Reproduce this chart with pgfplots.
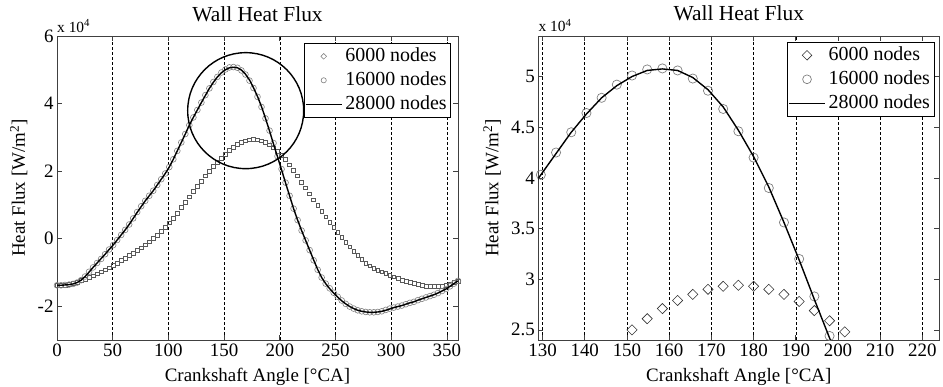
\documentclass[border=0pt]{standalone}
\usepackage{fontspec}
\setmainfont{Liberation Serif}
\usepackage{pgfplots}
\usepackage{pgfplotstable}
\pgfplotsset{compat=1.18}

\pgfplotstableread{
x c6 c16 c28
0.0 -1.38 -1.38 -1.38
3.6 -1.38 -1.38 -1.38
7.2 -1.37 -1.37 -1.37
10.8 -1.36 -1.36 -1.36
14.4 -1.33 -1.34 -1.34
18.0 -1.29 -1.30 -1.30
21.6 -1.24 -1.23 -1.23
25.2 -1.19 -1.12 -1.12
28.8 -1.15 -0.98 -0.99
32.4 -1.10 -0.85 -0.85
36.0 -1.04 -0.72 -0.72
39.6 -0.98 -0.60 -0.59
43.2 -0.92 -0.46 -0.46
46.8 -0.86 -0.32 -0.32
50.4 -0.79 -0.19 -0.19
54.0 -0.72 -0.04 -0.04
57.6 -0.65 0.11 0.11
61.2 -0.58 0.26 0.26
64.8 -0.50 0.42 0.42
68.4 -0.42 0.60 0.60
72.0 -0.35 0.79 0.78
75.6 -0.27 0.96 0.95
79.2 -0.18 1.12 1.12
82.8 -0.09 1.27 1.27
86.4 0.01 1.42 1.42
90.0 0.11 1.59 1.59
93.6 0.21 1.76 1.76
97.2 0.33 1.93 1.93
100.8 0.47 2.12 2.12
104.4 0.61 2.35 2.35
108.0 0.76 2.60 2.60
111.6 0.92 2.85 2.85
115.2 1.08 3.10 3.10
118.8 1.24 3.36 3.36
122.4 1.40 3.59 3.59
126.0 1.56 3.81 3.81
129.6 1.71 4.03 4.03
133.2 1.86 4.25 4.24
136.8 2.00 4.45 4.45
140.4 2.14 4.64 4.63
144.0 2.27 4.79 4.79
147.6 2.39 4.92 4.91
151.2 2.50 5.01 5.00
154.8 2.61 5.07 5.06
158.4 2.71 5.08 5.075
162.0 2.79 5.06 5.06
165.6 2.85 4.98 4.99
169.2 2.90 4.86 4.87
172.8 2.93 4.68 4.70
176.4 2.94 4.46 4.47
180.0 2.93 4.20 4.21
183.6 2.90 3.90 3.91
187.2 2.85 3.56 3.56
190.8 2.78 3.20 3.19
194.4 2.69 2.83 2.80
198.0 2.59 2.44 2.42
201.6 2.48 2.06 2.04
205.2 2.34 1.66 1.65
208.8 2.19 1.27 1.27
212.4 2.03 0.89 0.89
216.0 1.86 0.55 0.55
219.6 1.68 0.24 0.24
223.2 1.51 -0.05 -0.05
226.8 1.33 -0.34 -0.34
230.4 1.15 -0.64 -0.63
234.0 0.98 -0.92 -0.91
237.6 0.81 -1.15 -1.15
241.2 0.65 -1.33 -1.33
244.8 0.49 -1.47 -1.48
248.4 0.34 -1.60 -1.61
252.0 0.19 -1.72 -1.73
255.6 0.04 -1.83 -1.84
259.2 -0.10 -1.93 -1.93
262.8 -0.24 -2.01 -2.01
266.4 -0.37 -2.07 -2.07
270.0 -0.50 -2.12 -2.12
273.6 -0.62 -2.15 -2.15
277.2 -0.72 -2.17 -2.17
280.8 -0.80 -2.18 -2.18
284.4 -0.87 -2.18 -2.18
288.0 -0.93 -2.17 -2.17
291.6 -0.98 -2.15 -2.15
295.2 -1.03 -2.11 -2.12
298.8 -1.08 -2.07 -2.08
302.4 -1.13 -2.04 -2.04
306.0 -1.18 -2.01 -2.01
309.6 -1.22 -1.98 -1.98
313.2 -1.26 -1.94 -1.94
316.8 -1.30 -1.90 -1.90
320.4 -1.33 -1.87 -1.87
324.0 -1.36 -1.82 -1.82
327.6 -1.38 -1.78 -1.78
331.2 -1.40 -1.74 -1.74
334.8 -1.41 -1.70 -1.70
338.4 -1.41 -1.66 -1.66
342.0 -1.41 -1.61 -1.61
345.6 -1.40 -1.55 -1.55
349.2 -1.38 -1.49 -1.49
352.8 -1.35 -1.41 -1.41
356.4 -1.30 -1.33 -1.33
360.0 -1.25 -1.25 -1.25
}\heatdata

\newcommand{\lblfont}{\fontsize{19}{22}\selectfont}
\newcommand{\lgdfont}{\fontsize{20}{23}\selectfont}
\newcommand{\ttlfont}{\fontsize{21.5}{25}\selectfont}
\newcommand{\expfont}{\fontsize{15.5}{18}\selectfont}

\pgfplotsset{
  every axis/.append style={
    scale only axis, width=401bp, height=304bp,
    clip mode=individual,
    tick align=inside, major tick length=5bp,
    xmajorgrids,
    major grid style={black, line width=0.5bp, dash pattern=on 2.5bp off 2.5bp},
    axis line style={black!75, line width=0.8bp},
    tick style={black!75, line width=0.6bp},
    /pgf/number format/assume math mode=true,
    tick label style={font=\lblfont},
    legend cell align=left,
    legend image code/.code={\draw[mark repeat=2,mark phase=2,##1] plot coordinates {(0bp,0bp) (18bp,0bp) (36bp,0bp)};},
    legend style={at={(axis description cs:1,1)}, anchor=north east, xshift=-5bp, yshift=-7bp,
      draw=black, line width=0.6bp, font=\lgdfont, inner sep=1bp, row sep=0pt,
      nodes={inner sep=3bp, text height=14bp, text depth=4bp}},
  },
  every axis title/.style={at={(axis description cs:0.5,1)}, anchor=base, yshift=15bp},
  every axis x label/.style={at={(axis description cs:0.5,-0.135)}, anchor=base, font=\lblfont},
  every axis y label/.style={at={(axis description cs:-0.0798,0.5)}, rotate=90, anchor=base, font=\lblfont},
}

\begin{document}
\begin{tikzpicture}
\useasboundingbox (0,0) rectangle (943bp,387bp);

\begin{axis}[
  at={(57bp,47bp)}, anchor=south west,
  xmin=0, xmax=360, ymin=-3, ymax=6,
  xtick={0,50,...,350}, ytick={-2,0,2,4,6},
  title={\ttlfont Wall Heat Flux},
  xlabel={Crankshaft Angle [°CA]},
  ylabel={Heat Flux [W/m\textsuperscript{2}]},
  legend style={xshift=-2bp},
]
\addplot[forget plot, only marks, mark=square, mark size=1.9bp, black!65, line width=0.5bp] table[x=x, y=c6] {\heatdata};
\addplot[forget plot, only marks, mark=o, mark size=2.9bp, black!50, line width=0.6bp] table[x=x, y=c16] {\heatdata};
\addplot[forget plot, black, line width=1.4bp] table[x=x, y=c28] {\heatdata};
\draw[black, line width=1.4bp] (axis cs:169.4,3.79) circle[radius=58bp];
\node[anchor=base west, inner sep=0pt] at ([yshift=4bp]rel axis cs:0,1) {\expfont x 10\textsuperscript{4}};
\addlegendimage{only marks, mark=square, mark options={rotate=45}, mark size=2bp, black!55, line width=0.5bp}
\addlegendimage{only marks, mark=o, mark size=2.6bp, black!50, line width=0.6bp}
\addlegendimage{black, line width=1.4bp}
\legend{6000 nodes, 16000 nodes, 28000 nodes}
\end{axis}

\begin{axis}[
  at={(538.3bp,47bp)}, anchor=south west,
  xmin=129, xmax=224, ymin=2.4, ymax=5.4,
  xtick={130,140,...,220}, ytick={2.5,3,3.5,4,4.5,5},
  title={\ttlfont Wall Heat Flux},
  xlabel={Crankshaft Angle [°CA]},
  ylabel={Heat Flux [W/m\textsuperscript{2}]},
  ylabel style={at={(axis description cs:-0.0998,0.5)}},
  legend style={xshift=0bp, yshift=1bp},
]
\addplot[forget plot, only marks, mark=square, mark options={rotate=45}, mark size=3.6bp, black!80, line width=0.6bp,
  restrict x to domain=129:224, restrict y to domain=2.38:5.4] table[x=x, y=c6] {\heatdata};
\addplot[forget plot, only marks, mark=o, mark size=4.6bp, black!50, line width=0.7bp,
  restrict x to domain=129:224, restrict y to domain=2.38:5.4] table[x=x, y=c16] {\heatdata};
\addplot[forget plot, black, line width=1.4bp] table[x=x, y=c28] {\heatdata};
\node[anchor=base west, inner sep=0pt] at ([yshift=4bp]rel axis cs:0,1) {\expfont x 10\textsuperscript{4}};
\addlegendimage{only marks, mark=square, mark options={rotate=45}, mark size=3.4bp, black!80, line width=0.6bp}
\addlegendimage{only marks, mark=o, mark size=4.4bp, black!50, line width=0.7bp}
\addlegendimage{black, line width=1.4bp}
\legend{6000 nodes, 16000 nodes, 28000 nodes}
\end{axis}
\end{tikzpicture}
\end{document}
